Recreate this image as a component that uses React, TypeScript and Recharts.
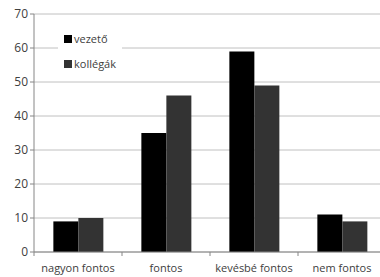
import { BarChart, Bar, XAxis, YAxis, CartesianGrid, Legend } from "recharts";

const categories = ["nagyon fontos", "fontos", "kevésbé fontos", "nem fontos"];
const vezeto = [9, 35, 59, 11];
const kollegak = [10, 46, 49, 9];
const yTicks = [0, 10, 20, 30, 40, 50, 60, 70];

const data = categories.map((name, i) => ({
  name,
  vezeto: vezeto[i],
  kollegak: kollegak[i],
}));

const font = "Open Sans, Liberation Sans, sans-serif";
const textColor = "#404040";

const series = [
  { key: "vezeto", label: "vezető", color: "#000000" },
  { key: "kollegak", label: "kollégák", color: "#333333" },
];

function CategoryTick(props: any) {
  const { x, y, payload } = props;
  const half = 44;
  return (
    <g>
      <line x1={x - half} y1={y - 8} x2={x - half} y2={y - 4} stroke="#868686" />
      <text
        x={x}
        y={y + 12}
        textAnchor="middle"
        fill={textColor}
        fontSize={11}
        fontFamily={font}
      >
        {payload.value}
      </text>
    </g>
  );
}

function LegendBox() {
  return (
    <div
      style={{
        background: "#fff",
        padding: "2px 6px",
        fontFamily: font,
        fontSize: 11,
        color: textColor,
        lineHeight: "25px",
      }}
    >
      {series.map((s) => (
        <div key={s.key} style={{ display: "flex", alignItems: "center" }}>
          <span
            style={{
              display: "inline-block",
              width: 8,
              height: 8,
              background: s.color,
              marginRight: 2,
            }}
          />
          {s.label}
        </div>
      ))}
    </div>
  );
}

export default function App() {
  return (
    <div
      style={{
        position: "absolute",
        left: 0,
        top: 0,
        width: 380,
        height: 277,
        overflow: "hidden",
        background: "#fff",
      }}
    >
      <BarChart
        width={386}
        height={277}
        data={data}
        margin={{ top: 14, right: 0, left: 0, bottom: 0 }}
        barCategoryGap="22%"
        barGap={0}
      >
        <CartesianGrid vertical={false} stroke="#c0c0c0" />
        <XAxis
          dataKey="name"
          height={25}
          stroke="#868686"
          tickLine={false}
          tick={<CategoryTick />}
          interval={0}
        />
        <YAxis
          width={34}
          domain={[0, 70]}
          ticks={yTicks}
          stroke="#868686"
          tickSize={4}
          tick={{ fill: textColor, fontSize: 12, fontFamily: font }}
        />
        <Legend
          layout="horizontal"
          align="center"
          verticalAlign="middle"
          content={<LegendBox />}
          wrapperStyle={{ left: 58, top: 24, width: "auto" }}
        />
        {series.map((s) => (
          <Bar
            key={s.key}
            dataKey={s.key}
            name={s.label}
            fill={s.color}
            isAnimationActive={false}
          />
        ))}
      </BarChart>
    </div>
  );
}
